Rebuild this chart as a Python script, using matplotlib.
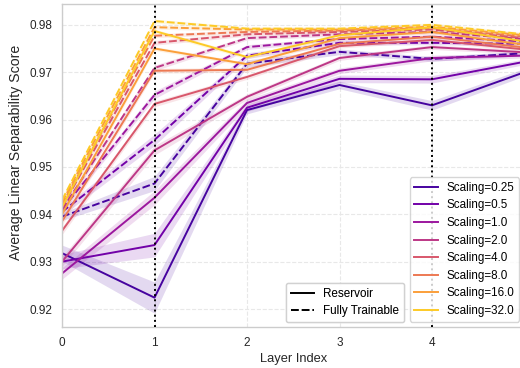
import numpy as np
import matplotlib
matplotlib.use("Agg")
import matplotlib.pyplot as plt
from matplotlib.lines import Line2D

plt.rcParams['font.family'] = ['Liberation Sans', 'DejaVu Sans']

layers = [0, 1, 2, 3, 4, 5]
xtick_layers = [0, 1, 2, 3, 4]
scalings = [0.25, 0.5, 1.0, 2.0, 4.0, 8.0, 16.0, 32.0]

reservoir = [
    [0.9318, 0.9224, 0.9620, 0.9673, 0.9630, 0.9700],
    [0.9300, 0.9335, 0.9625, 0.9686, 0.9685, 0.9722],
    [0.9275, 0.9435, 0.9635, 0.9703, 0.9730, 0.9735],
    [0.9300, 0.9535, 0.9648, 0.9730, 0.9753, 0.9742],
    [0.9365, 0.9633, 0.9690, 0.9755, 0.9768, 0.9748],
    [0.9385, 0.9703, 0.9705, 0.9760, 0.9775, 0.9752],
    [0.9400, 0.9750, 0.9717, 0.9772, 0.9785, 0.9758],
    [0.9415, 0.9787, 0.9732, 0.9778, 0.9795, 0.9765],
]
reservoir_ci = [
    [0.0017, 0.0033, 0.0008, 0.0008, 0.0010, 0.0008],
    [0.0015, 0.0025, 0.0008, 0.0008, 0.0008, 0.0006],
    [0.0012, 0.0015, 0.0008, 0.0006, 0.0006, 0.0005],
    [0.0010, 0.0010, 0.0006, 0.0005, 0.0005, 0.0004],
    [0.0008, 0.0006, 0.0005, 0.0004, 0.0004, 0.0004],
    [0.0008, 0.0005, 0.0005, 0.0004, 0.0004, 0.0004],
    [0.0007, 0.0004, 0.0004, 0.0004, 0.0004, 0.0004],
    [0.0007, 0.0004, 0.0004, 0.0004, 0.0004, 0.0004],
]
trainable = [
    [0.9395, 0.9465, 0.9718, 0.9743, 0.9728, 0.9740],
    [0.9405, 0.9557, 0.9735, 0.9762, 0.9762, 0.9760],
    [0.9410, 0.9652, 0.9753, 0.9770, 0.9775, 0.9765],
    [0.9410, 0.9709, 0.9772, 0.9780, 0.9785, 0.9770],
    [0.9415, 0.9762, 0.9780, 0.9785, 0.9790, 0.9772],
    [0.9420, 0.9777, 0.9785, 0.9788, 0.9793, 0.9775],
    [0.9425, 0.9795, 0.9790, 0.9790, 0.9796, 0.9778],
    [0.9430, 0.9808, 0.9792, 0.9792, 0.9800, 0.9780],
]
trainable_ci = [
    [0.0008, 0.0015, 0.0008, 0.0006, 0.0005, 0.0005],
    [0.0008, 0.0012, 0.0006, 0.0005, 0.0004, 0.0004],
    [0.0006, 0.0008, 0.0005, 0.0004, 0.0004, 0.0004],
    [0.0006, 0.0006, 0.0004, 0.0004, 0.0004, 0.0004],
    [0.0006, 0.0005, 0.0004, 0.0004, 0.0004, 0.0004],
    [0.0006, 0.0004, 0.0004, 0.0004, 0.0004, 0.0004],
    [0.0006, 0.0004, 0.0004, 0.0004, 0.0004, 0.0004],
    [0.0006, 0.0004, 0.0004, 0.0004, 0.0004, 0.0004],
]
vlines_at = [1, 4]
yticks = [0.92, 0.93, 0.94, 0.95, 0.96, 0.97, 0.98]

colors = plt.get_cmap('plasma')(np.linspace(0, 1, len(scalings) + 2)[1:-1])

fig = plt.figure(figsize=(5.2, 3.68), dpi=100)
ax = fig.add_axes([62 / 520, 41 / 368, (524.5 - 62) / 520, 323 / 368])

x = np.array(layers)
dash = (0, (4, 1.5))
for i, s in enumerate(scalings):
    c = colors[i]
    r = np.array(reservoir[i]); rc = np.array(reservoir_ci[i])
    t = np.array(trainable[i]); tc = np.array(trainable_ci[i])
    ax.fill_between(x, r - rc, r + rc, color=c, alpha=0.15, lw=0)
    ax.fill_between(x, t - tc, t + tc, color=c, alpha=0.15, lw=0)
    ax.plot(x, r, color=c, lw=1.4, solid_capstyle='butt')
    ax.plot(x, t, color=c, lw=1.4, linestyle=dash)

for v in vlines_at:
    ax.axvline(v, color='black', linestyle=':', lw=1.4, zorder=5)

ax.set_xlim(0, 5)
ax.set_ylim(0.9162, 0.9844)
ax.set_xticks(xtick_layers)
ax.set_yticks(yticks)
ax.set_yticklabels([f"{v:.2f}" for v in yticks])
ax.grid(True, color='#e8e8e8', linestyle='--', lw=0.8)
ax.set_axisbelow(True)
for sp in ax.spines.values():
    sp.set_color('#cccccc')
    sp.set_linewidth(1.0)
ax.tick_params(axis='both', length=0, labelsize=8.5, colors='#262626')
ax.tick_params(axis='y', pad=7)
ax.tick_params(axis='x', pad=7)
ax.set_xlabel('Layer Index', fontsize=9.3, color='#262626', labelpad=3)
ax.set_ylabel('Average Linear Separability Score', fontsize=10.2, color='#262626')
ax.yaxis.set_label_coords(-0.084, 0.54)

sc_handles = [Line2D([], [], color=colors[i], lw=1.4) for i in range(len(scalings))]
sc_labels = [f"Scaling={s}" for s in scalings]
leg1 = ax.legend(sc_handles, sc_labels, loc='lower right', fontsize=8.4,
                 frameon=True, edgecolor='#cccccc', framealpha=0.8,
                 labelspacing=0.48, borderaxespad=0.45)
ax.add_artist(leg1)

st_handles = [Line2D([], [], color='black', lw=1.4),
              Line2D([], [], color='black', lw=1.4, linestyle=dash)]
leg2 = ax.legend(st_handles, ['Reservoir', 'Fully Trainable'], loc='lower right',
                 bbox_to_anchor=(404 / 520, 46 / 368), bbox_transform=fig.transFigure,
                 borderaxespad=0, fontsize=8.4, frameon=True, edgecolor='#cccccc',
                 framealpha=0.8, labelspacing=0.48)
ax.add_artist(leg2)

fig.savefig('out.png', dpi=100)
